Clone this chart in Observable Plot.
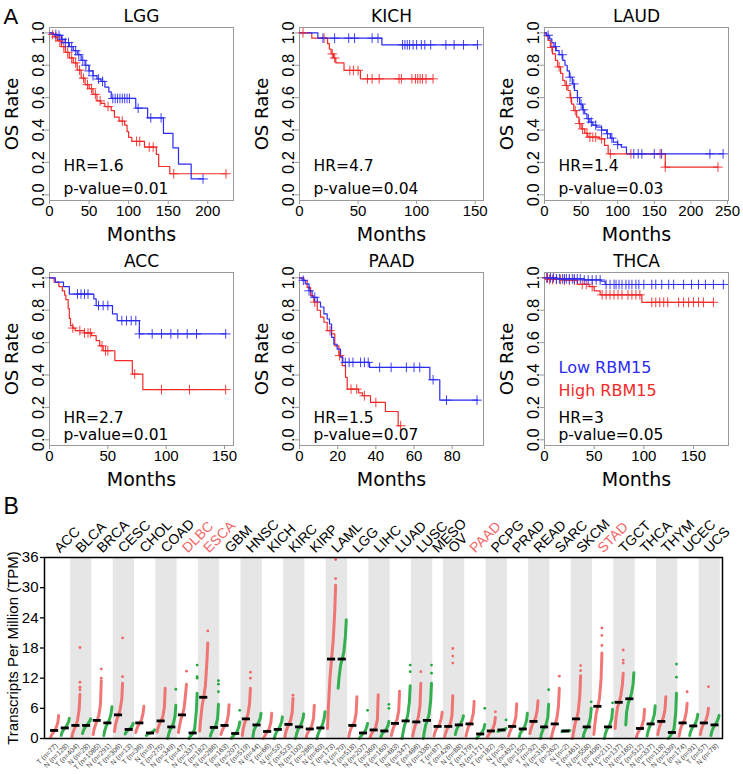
<!DOCTYPE html>
<html><head><meta charset="utf-8">
<script src="https://cdn.jsdelivr.net/npm/d3@7"></script>
<script src="https://cdn.jsdelivr.net/npm/@observablehq/plot@0.6"></script>
<style>
html,body{margin:0;padding:0;background:#fff;}
#root{position:relative;width:743px;height:774px;overflow:hidden;background:#fff;}
.panel{position:absolute;}
.panel svg{display:block;overflow:visible;}
</style></head><body><div id="root"></div>
<script>
// ===== Panel A: Kaplan-Meier data (time in months, survival) =====
const LGG_low = [[0,1],[5,0.99],[10,0.985],[15,0.96],[20,0.94],[25,0.915],[30,0.89],[35,0.865],[40,0.83],[45,0.80],[50,0.765],[55,0.735],[60,0.715],[65,0.70],[70,0.665],[75,0.635],[78,0.595],[109,0.535],[124,0.475],[144,0.38],[156,0.29],[163,0.19],[179,0.098],[194,0.098]];
const LGG_lowC = [8,12,16,20,24,28,33,37,42,46,50,55,62,67,80,83,86,89,92,95,98,101,112,128,141,194];
const LGG_high = [[0,1],[3,0.99],[6,0.975],[10,0.95],[15,0.915],[20,0.88],[25,0.845],[30,0.815],[35,0.77],[40,0.72],[45,0.68],[50,0.655],[55,0.62],[60,0.58],[65,0.565],[70,0.545],[78,0.52],[82,0.48],[88,0.455],[95,0.43],[98,0.39],[100,0.355],[104,0.33],[120,0.295],[135,0.25],[138,0.175],[152,0.13],[223,0.13]];
const LGG_highC = [4,8,13,18,23,28,33,38,43,48,53,58,64,74,92,110,114,126,131,157,223];

const KICH_low = [[0,1],[15.7,0.967],[70.3,0.926],[152,0.926]];
const KICH_lowC = [20,30,42,47,62,67,88,90,92,94,97,100,104,107,112,125,132,140,152];
const KICH_high = [[0,1],[10.5,0.967],[24,0.933],[25.5,0.9],[27,0.87],[29,0.845],[31,0.815],[38,0.768],[52,0.716],[114,0.716]];
const KICH_highC = [3,21,28,30,43,46,50,58,62,68,85,87,96,99,101,103,105,108,114];

const LAUD_low = [[0,1],[3,0.985],[7,0.963],[10,0.94],[13,0.915],[16,0.89],[20,0.865],[25,0.83],[28,0.80],[31,0.765],[34,0.726],[38,0.685],[41,0.644],[45,0.60],[48,0.56],[52,0.525],[55,0.5],[58,0.47],[62,0.449],[66,0.43],[71,0.418],[78,0.40],[85,0.377],[90,0.35],[94,0.325],[100,0.31],[105,0.294],[112,0.253],[244,0.253]];
const LAUD_lowC = [5,15,24,35,40,45,50,53,60,64,70,78,86,92,100,122,128,133,150,160,226,244];
const LAUD_high = [[0,1],[2,0.98],[5,0.953],[8,0.91],[11,0.87],[15,0.83],[18,0.79],[22,0.75],[25,0.706],[28,0.675],[32,0.644],[35,0.6],[37,0.56],[40,0.52],[44,0.48],[47,0.44],[50,0.407],[55,0.38],[59,0.356],[75,0.346],[82,0.305],[87,0.253],[165,0.171],[237,0.171]];
const LAUD_highC = [10,20,30,36,42,48,52,58,62,66,70,78,90,118,158,165,237];

const ACC_low = [[0,1],[5,0.973],[12,0.946],[17,0.9],[38,0.87],[40,0.829],[54,0.777],[58,0.736],[77,0.654],[151,0.654]];
const ACC_lowC = [24,27,30,33,42,46,50,62,66,70,74,77,88,96,104,110,118,126,151];
const ACC_high = [[0,1],[4,0.973],[8,0.946],[11,0.92],[13,0.893],[14,0.866],[16,0.81],[17,0.75],[18,0.705],[20,0.69],[22,0.674],[30,0.66],[36,0.643],[40,0.612],[43,0.58],[46,0.55],[56,0.489],[71,0.406],[80,0.31],[151,0.31]];
const ACC_highC = [20,26,30,33,35,45,48,50,73,96,120,151];

const PAAD_low = [[0,1],[1.4,0.985],[3,0.963],[5,0.92],[6.6,0.88],[9.3,0.85],[11,0.82],[12.8,0.777],[14.5,0.746],[15.7,0.715],[16.8,0.633],[18,0.59],[19.7,0.56],[21.5,0.51],[22.7,0.478],[36.7,0.447],[68.3,0.371],[73.5,0.245],[93.4,0.245]];
const PAAD_lowC = [2,5,8,24,26,28,32,34,36,42,48,56,60,63,70,77,93];
const PAAD_high = [[0,1],[2.3,0.983],[4,0.94],[5.8,0.89],[7.5,0.85],[9.3,0.8],[11,0.757],[12.8,0.726],[14.5,0.674],[16.8,0.654],[18.5,0.58],[20.6,0.52],[22.4,0.458],[24.1,0.386],[25,0.313],[31,0.29],[33,0.272],[37.2,0.231],[45,0.175],[51.7,0.087],[53,0.087]];
const PAAD_highC = [8,16,21,27,30,34,40,53];

const THCA_low = [[0,1],[12,0.994],[40,0.987],[57,0.979],[61,0.959],[180,0.959]];
const THCA_lowC = [3,6,9,12,15,18,20,22,25,28,30,33,36,40,44,48,52,56,62,66,70,72,75,78,82,85,88,92,95,100,108,112,118,125,130,140,148,155,162,170,180];
const THCA_high = [[0,1],[5,0.99],[20,0.985],[33,0.96],[45,0.946],[50,0.92],[56,0.895],[98,0.849],[170,0.849]];
const THCA_highC = [2,5,8,12,16,20,25,30,38,42,48,58,62,66,70,74,78,84,88,92,96,108,112,116,120,124,135,140,145,150,155,160,170];

const kmNames = ["LGG","KICH","LAUD","ACC","PAAD","THCA"];
const kmHR = ["HR=1.6","HR=4.7","HR=1.4","HR=2.7","HR=1.5","HR=3"];
const kmP = ["p-value=0.01","p-value=0.04","p-value=0.03","p-value=0.01","p-value=0.07","p-value=0.05"];
const kmXmax = [232.5,157.1,251.4,157.7,96.4,185.2];
const kmXticks = [[0,50,100,150,200],[0,50,100,150],[0,50,100,150,200,250],[0,50,100,150],[0,20,40,60,80],[0,50,100,150]];
const kmLow = [LGG_low,KICH_low,LAUD_low,ACC_low,PAAD_low,THCA_low];
const kmLowC = [LGG_lowC,KICH_lowC,LAUD_lowC,ACC_lowC,PAAD_lowC,THCA_lowC];
const kmHigh = [LGG_high,KICH_high,LAUD_high,ACC_high,PAAD_high,THCA_high];
const kmHighC = [LGG_highC,KICH_highC,LAUD_highC,ACC_highC,PAAD_highC,THCA_highC];
const legendLabels = ["Low RBM15","High RBM15"];
const yTicksKM = [0,0.2,0.4,0.6,0.8,1.0];

// ===== Panel B: expression data (TPM) =====
const cancers = ["ACC","BLCA","BRCA","CESC","CHOL","COAD","DLBC","ESCA","GBM","HNSC","KICH","KIRC","KIRP","LAML","LGG","LIHC","LUAD","LUSC","MESO","OV","PAAD","PCPG","PRAD","READ","SARC","SKCM","STAD","TGCT","THCA","THYM","UCEC","UCS"];
const highlighted = ["DLBC","ESCA","PAAD","STAD"];
const tumorN = [77,404,1085,306,36,275,47,182,163,519,66,523,286,173,518,369,483,486,87,426,179,182,492,92,262,461,408,137,512,118,174,57];
const normalN = [128,28,291,13,9,349,337,286,207,44,53,100,60,70,207,160,347,338,null,88,171,3,152,318,2,558,211,165,337,339,91,78];
// values at ranks 0, 10%, 30%, 50% (median), 70%, 90%, 100%
const rankP = [0,0.1,0.3,0.5,0.7,0.9,1];
const tQ = [
[0.2,0.6,1.1,1.6,2.2,3.2,4.6],[0.3,1.0,1.9,2.6,3.6,5.8,8.8],[0.8,1.8,2.8,3.6,4.6,6.8,11.5],[1.4,2.5,3.8,4.7,5.8,7.8,11.0],
[1.2,1.8,2.6,3.1,3.7,5.0,6.4],[1.3,2.0,2.9,3.5,4.3,6.2,10.0],[1.2,2.2,3.8,4.7,6.0,9.0,10.8],[1.5,3.5,6.5,8.2,10.5,15.5,19.0],
[0.8,1.4,2.1,2.6,3.2,4.6,6.7],[0.6,1.8,3.1,3.9,4.9,7.0,10.0],[0.0,0.4,1.0,1.4,2.0,3.2,5.0],[0.3,1.2,2.2,2.8,3.6,5.2,8.0],
[0.2,0.8,1.5,1.9,2.6,4.0,6.6],[2.0,6.0,12.0,15.8,19.5,25.5,30.5],[0.4,1.2,2.1,2.6,3.3,5.0,8.3],[0.2,0.7,1.3,1.7,2.3,3.8,8.7],
[0.6,1.4,2.4,3.0,3.8,5.5,9.0],[0.5,1.3,2.6,3.3,4.3,6.5,11.0],[0.5,1.2,2.0,2.4,2.9,4.0,5.2],[0.4,1.0,1.9,2.4,3.0,4.5,8.5],
[0.5,1.2,2.3,2.9,3.6,5.0,7.0],[0.3,0.6,1.1,1.5,2.0,3.0,4.2],[0.5,1.0,1.9,2.4,3.0,4.3,6.9],[1.0,1.8,2.8,3.4,4.1,5.6,7.5],
[0.0,0.8,2.0,2.9,4.0,6.5,10.0],[0.0,1.0,2.8,3.9,5.3,8.5,12.5],[0.8,2.5,5.0,6.4,8.0,12.0,17.0],[2.0,4.0,6.2,7.2,8.5,10.8,13.0],
[0.3,0.8,1.5,2.0,2.6,3.8,5.8],[0.8,1.6,2.7,3.4,4.2,5.8,8.3],[0.5,1.3,2.5,3.1,3.8,5.3,7.0],[0.8,1.6,2.6,3.1,3.7,4.8,6.0]];
const nQ = [
[0.6,1.2,1.8,2.1,2.6,3.3,4.0],[1.0,1.5,2.2,2.6,3.0,3.5,3.9],[0.6,1.5,2.5,3.1,3.8,5.0,6.3],[0.9,1.2,1.6,1.8,2.1,2.6,3.0],
[0.6,0.8,1.0,1.1,1.3,1.5,1.7],[0.0,0.8,1.8,2.3,3.0,4.5,6.6],[0.0,0.3,0.7,1.1,2.0,5.5,9.0],[0.5,1.0,1.8,2.2,2.7,4.0,6.8],
[0.0,0.3,0.7,1.0,1.5,2.4,3.3],[0.4,1.5,2.3,2.7,3.2,4.0,5.0],[0.0,0.6,1.4,1.8,2.4,3.3,4.3],[0.0,0.8,1.8,2.3,2.9,3.9,4.9],
[0.0,0.6,1.5,2.1,2.8,4.0,5.3],[10.0,12.0,14.6,15.8,17.2,20.5,23.6],[0.0,0.3,0.7,1.1,1.5,2.3,3.0],[0.3,0.7,1.2,1.5,1.9,2.6,3.4],
[0.0,1.0,2.6,3.5,4.6,7.2,10.5],[0.0,1.2,2.8,3.6,4.8,7.5,11.0],null,[0.8,1.5,2.3,2.7,3.1,3.8,4.5],
[0.0,0.2,0.6,0.9,1.3,2.0,2.8],[1.4,1.5,1.6,1.7,1.8,1.9,2.0],[0.3,0.9,1.5,1.9,2.5,3.6,5.0],[0.0,0.9,1.8,2.3,2.9,4.2,6.8],
[1.4,1.4,1.5,1.5,1.5,1.6,1.6],[0.2,1.0,1.8,2.3,2.9,4.2,6.0],[0.0,0.9,1.8,2.3,2.9,4.0,5.8],[2.7,5.2,7.0,7.9,8.9,10.8,13.1],
[0.5,1.3,2.3,2.9,3.6,4.8,6.5],[0.0,0.2,0.7,1.2,2.0,5.0,9.0],[0.6,1.3,2.1,2.5,3.0,3.9,4.8],[0.6,1.4,2.2,2.7,3.2,4.0,4.6]];
const tOut = [[],[9.7,10.2,11.2,18.1],[12.0,13.8],[12.3,20.0],[],[],[13.4],[21.4],[],[12.0,13.2],[],[8.6],[],[31.8,35.6],[],[],
[9.4],[13.3],[],[15.0,16.4,17.9],[7.4],[5.3],[],[],[12.4],[13.5,14.5],[18.5,20.5,22.0],[15.0,15.6,17.6],[],[],[9.3],[10.3]];
const nOut = [[],[],[],[],[],[9.8],[12.0,12.3,14.6],[9.3,10.8,11.5],[5.6],[],[],[],[],[],[5.6],[6.0,6.8],
[13.3,14.6],[13.0,14.6],null,[],[6.0],[3.7],[],[9.7],[],[7.3],[7.1],[],[],[12.2,14.8],[],[]];
const yTicksB = [0,6,12,18,24,30,36];

// ===== styling =====
const BLUE = "#2a2af2", RED = "#f22a2a";
const TCOL = "#f06868", NCOL = "#1fa83e";
const root = document.getElementById("root");
function place(node, left, top){ const d = document.createElement("div"); d.className = "panel"; d.style.left = left+"px"; d.style.top = top+"px"; d.appendChild(node); root.appendChild(d); }
function stepAt(curve, t){ let s = curve[0][1]; for (const [ti, si] of curve){ if (ti <= t) s = si; else break; } return s; }

const kmPos = [[0,0],[250,0],[495,0],[0,245],[250,245],[495,245]];
kmNames.forEach((name, k) => {
  const row2 = k >= 3;
  const low = kmLow[k].map(([t,s]) => ({t,s}));
  const high = kmHigh[k].map(([t,s]) => ({t,s}));
  const lowC = kmLowC[k].map(t => ({t, s: stepAt(kmLow[k], t)}));
  const highC = kmHighC[k].map(t => ({t, s: stepAt(kmHigh[k], t)}));
  const marks = [
    Plot.frame({stroke: "#999"}),
    Plot.axisX({ticks: kmXticks[k], tickSize: 4, tickFormat: () => "", stroke: "#999", label: null}),
    Plot.axisY({ticks: yTicksKM, tickSize: 4, tickFormat: () => "", stroke: "#999", label: null}),
    Plot.text(kmXticks[k], {x: d => d, frameAnchor: "bottom", dy: 11, text: d => String(d), lineAnchor: "middle", textAnchor: "middle", fontSize: 15, fontFamily: "Liberation Sans"}),
    Plot.text(yTicksKM, {y: d => d, frameAnchor: "left", dx: -10.5, rotate: -90, text: d => d.toFixed(1), lineAnchor: "middle", textAnchor: "middle", fontSize: 16.5, fontFamily: "Liberation Sans"}),
    Plot.text([name], {text: d => d, frameAnchor: "top", dy: -11, lineAnchor: "middle", textAnchor: "middle", fontSize: 17, fontFamily: "DejaVu Sans"}),
    Plot.text(["Months"], {text: d => d, frameAnchor: "bottom", dy: 34, lineAnchor: "middle", textAnchor: "middle", fontSize: 19, fontFamily: "DejaVu Sans"}),
    Plot.text(["OS Rate"], {text: d => d, frameAnchor: "left", dx: -37, rotate: -90, lineAnchor: "middle", textAnchor: "middle", fontSize: 18, fontFamily: "DejaVu Sans"}),
    Plot.line(high, {x: "t", y: "s", curve: "step-after", stroke: RED, strokeWidth: 1.2}),
    Plot.line(low, {x: "t", y: "s", curve: "step-after", stroke: BLUE, strokeWidth: 1.2}),
    Plot.dot(highC, {x: "t", y: "s", symbol: "plus", r: 3.2, stroke: RED, strokeWidth: 0.9, fill: "none"}),
    Plot.dot(lowC, {x: "t", y: "s", symbol: "plus", r: 3.2, stroke: BLUE, strokeWidth: 0.9, fill: "none"}),
    Plot.text([kmHR[k]], {text: d => d, frameAnchor: "bottom-left", dx: 14, dy: row2 ? -23 : -29.5, textAnchor: "start", lineAnchor: "bottom", fontSize: 15.5, fontFamily: "DejaVu Sans"}),
    Plot.text([kmP[k]], {text: d => d, frameAnchor: "bottom-left", dx: 14, dy: row2 ? -6 : -7, textAnchor: "start", lineAnchor: "bottom", fontSize: 15.5, fontFamily: "DejaVu Sans"})
  ];
  if (name === "THCA") {
    marks.push(Plot.text([legendLabels[0]], {text: d => d, frameAnchor: "bottom-left", dx: 14, dy: -72.5, textAnchor: "start", lineAnchor: "bottom", fontSize: 16, fill: BLUE, fontFamily: "DejaVu Sans"}));
    marks.push(Plot.text([legendLabels[1]], {text: d => d, frameAnchor: "bottom-left", dx: 14, dy: -49.3, textAnchor: "start", lineAnchor: "bottom", fontSize: 16, fill: RED, fontFamily: "DejaVu Sans"}));
  }
  if (k === 0) {
    marks.push(Plot.text(["A"], {text: d => d, frameAnchor: "top-left", dx: -46, dy: -4, textAnchor: "start", lineAnchor: "bottom", fontSize: 22, fontFamily: "Liberation Sans"}));
  }
  const chart = Plot.plot({
    width: 246, height: 250, marginLeft: 49, marginRight: 13, marginTop: 27, marginBottom: 50,
    style: {background: "transparent", overflow: "visible", fontFamily: "DejaVu Sans", color: "black"},
    x: {domain: [0, kmXmax[k]]},
    y: {domain: [-0.035, 1.033]},
    marks
  });
  place(chart, kmPos[k][0], kmPos[k][1]);
});

// ===== Panel B =====
const groups = [];
cancers.forEach((c, ci) => {
  groups.push({cancer: c, ci, type: "T", n: tumorN[ci], q: tQ[ci], out: tOut[ci]});
  if (normalN[ci] != null) groups.push({cancer: c, ci, type: "N", n: normalN[ci], q: nQ[ci], out: nOut[ci]});
});
groups.forEach((g, i) => { g.i = i; });
const bands = cancers.map((c, ci) => {
  const gs = groups.filter(g => g.ci === ci);
  return {c, ci, x1: gs[0].i, x2: gs[gs.length - 1].i + 1, mid: (gs[0].i + gs[gs.length - 1].i + 1) / 2};
});
const curvePts = groups.flatMap(g => g.q.map((v, k) => ({i: g.i, type: g.type, x: g.i + 0.12 + 0.76 * rankP[k], y: v})));
const outPts = groups.flatMap(g => g.out.map(v => ({i: g.i, type: g.type, y: v})));

const chartB = Plot.plot({
  width: 743, height: 284, marginLeft: 44, marginRight: 21, marginTop: 67, marginBottom: 36,
  style: {background: "transparent", overflow: "visible", fontFamily: "Liberation Sans", color: "black"},
  x: {domain: [-0.45, 63.2], axis: null},
  y: {domain: [0, 36]},
  marks: [
    Plot.rect(bands.filter(b => b.ci % 2 === 1), {x1: "x1", x2: "x2", y1: 0, y2: 36, fill: "#e6e6e6"}),
    Plot.line(curvePts.filter(d => d.type === "T"), {x: "x", y: "y", z: "i", stroke: TCOL, strokeWidth: 3, strokeOpacity: 0.9, strokeLinecap: "round"}),
    Plot.line(curvePts.filter(d => d.type === "N"), {x: "x", y: "y", z: "i", stroke: NCOL, strokeWidth: 3, strokeOpacity: 0.9, strokeLinecap: "round"}),
    Plot.dot(outPts.filter(d => d.type === "T"), {x: d => d.i + 0.88, y: "y", r: 1.4, fill: TCOL, stroke: "none"}),
    Plot.dot(outPts.filter(d => d.type === "N"), {x: d => d.i + 0.88, y: "y", r: 1.4, fill: NCOL, stroke: "none"}),
    Plot.ruleY(groups, {y: g => g.q[3], x1: g => g.i + 0.12, x2: g => g.i + 0.88, stroke: "black", strokeWidth: 2.8}),
    Plot.frame({stroke: "black", strokeWidth: 1.5}),
    Plot.axisY({ticks: yTicksB, tickSize: 4, tickPadding: 2, fontSize: 15, fontFamily: "Liberation Sans", label: null, strokeWidth: 1.3}),
    Plot.text(["Transcripts Per Million (TPM)"], {text: d => d, frameAnchor: "left", dx: -31, rotate: -90, lineAnchor: "middle", textAnchor: "middle", fontSize: 15, fontFamily: "Liberation Sans"}),
    Plot.text(bands, {x: "mid", frameAnchor: "top", dy: -4, rotate: -45, textAnchor: "start", lineAnchor: "bottom", text: "c", fontSize: 14, fill: b => highlighted.includes(b.c) ? TCOL : "black"}),
    Plot.text(groups, {x: g => g.i + 0.5, frameAnchor: "bottom", dx: 2, dy: 6, rotate: -45, textAnchor: "end", lineAnchor: "middle", text: g => `${g.type} (n=${g.n})`, fontSize: 7, fill: "#444"}),
    Plot.text(["B"], {text: d => d, frameAnchor: "top-left", dx: -41, dy: -44, textAnchor: "start", lineAnchor: "bottom", fontSize: 23, fontFamily: "Liberation Sans"})
  ]
});
place(chartB, 0, 490);
</script>
</body></html>
